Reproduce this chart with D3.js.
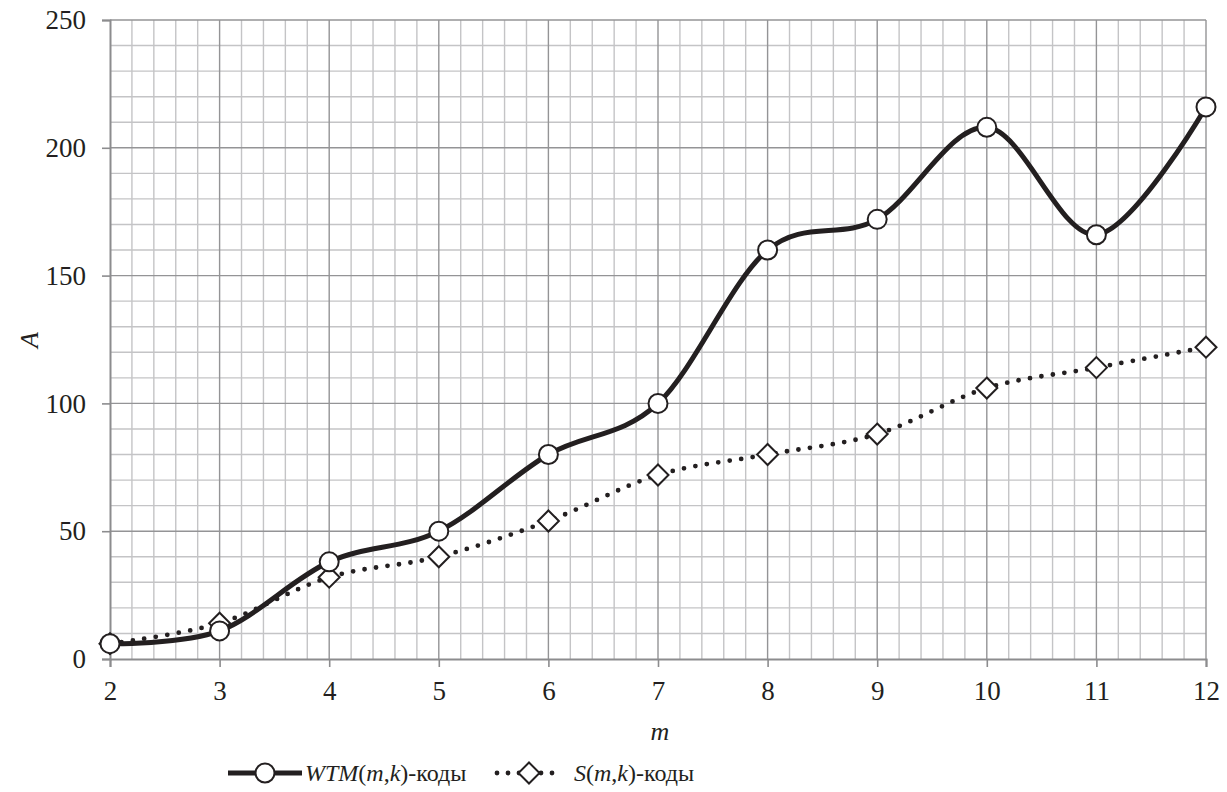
<!DOCTYPE html>
<html>
<head>
<meta charset="utf-8">
<script src="https://cdn.jsdelivr.net/npm/d3@7"></script>
</head>
<body style="margin:0">
<script>
// ---- data ----
const mValues   = [2, 3, 4, 5, 6, 7, 8, 9, 10, 11, 12];
const wtmValues = [6, 11, 38, 50, 80, 100, 160, 172, 208, 166, 216];
const sValues   = [6, 14, 32, 40, 54, 72, 80, 88, 106, 114, 122];
const yTicks    = [0, 50, 100, 150, 200, 250];

const FONT = "Liberation Serif";
const INK = "#231f20";

const width = 1227, height = 792;
const margin = { top: 20, right: 21, bottom: 133, left: 110 };
const innerW = width - margin.left - margin.right;
const innerH = height - margin.top - margin.bottom;

const svg = d3.select("body").append("svg")
  .attr("width", width)
  .attr("height", height);

const g = svg.append("g")
  .attr("transform", `translate(${margin.left},${margin.top})`);

const x = d3.scaleLinear().domain([2, 12]).range([0, innerW]);
const y = d3.scaleLinear().domain([0, 250]).range([innerH, 0]);

// minor grid
const minorX = d3.range(2, 12.001, 0.2).map(v => +v.toFixed(1));
const minorY = d3.range(0, 251, 10);

g.append("g").selectAll("line")
  .data(minorX.filter(v => !Number.isInteger(v)))
  .join("line")
  .attr("x1", d => x(d)).attr("x2", d => x(d))
  .attr("y1", 0).attr("y2", innerH)
  .attr("stroke", "#c4c4c6").attr("stroke-width", 1.4);

g.append("g").selectAll("line")
  .data(minorY.filter(v => v % 50 !== 0))
  .join("line")
  .attr("x1", 0).attr("x2", innerW)
  .attr("y1", d => y(d)).attr("y2", d => y(d))
  .attr("stroke", "#c4c4c6").attr("stroke-width", 1.4);

// major grid
g.append("g").selectAll("line")
  .data(mValues.slice(1))
  .join("line")
  .attr("x1", d => x(d)).attr("x2", d => x(d))
  .attr("y1", 0).attr("y2", innerH)
  .attr("stroke", "#949496").attr("stroke-width", 1.4);

g.append("g").selectAll("line")
  .data(yTicks.slice(1))
  .join("line")
  .attr("x1", 0).attr("x2", innerW)
  .attr("y1", d => y(d)).attr("y2", d => y(d))
  .attr("stroke", "#949496").attr("stroke-width", 1.4);

// axes
const xAxis = g.append("g")
  .attr("transform", `translate(0,${innerH})`)
  .call(d3.axisBottom(x).tickValues(mValues).tickSize(8).tickPadding(14).tickFormat(d3.format("d")));
const yAxis = g.append("g")
  .call(d3.axisLeft(y).tickValues(yTicks).tickSize(8).tickPadding(16));

[xAxis, yAxis].forEach(a => {
  a.select(".domain").attr("stroke", "#8c8c8e").attr("stroke-width", 2);
  a.selectAll(".tick line").attr("stroke", "#8c8c8e").attr("stroke-width", 1.6);
  a.selectAll(".tick text").attr("fill", INK).style("font-size", "27px", "important");
});
yAxis.selectAll(".tick text").attr("dy", "0.32em");

// axis titles
svg.append("text")
  .attr("x", margin.left + x(7) + 2)
  .attr("y", 740)
  .attr("text-anchor", "middle")
  .attr("font-style", "italic")
  .attr("fill", INK)
  .style("font-size", "26px", "important")
  .text("m");

svg.append("text")
  .attr("transform", "translate(38,340) rotate(-90)")
  .attr("text-anchor", "middle")
  .attr("font-style", "italic")
  .attr("fill", INK)
  .style("font-size", "26px", "important")
  .text("A");

// lines
const line = d3.line()
  .x(d => x(d[0]))
  .y(d => y(d[1]))
  .curve(d3.curveCatmullRom.alpha(0));

const wtm = mValues.map((m, i) => [m, wtmValues[i]]);
const sdat = mValues.map((m, i) => [m, sValues[i]]);

g.append("path")
  .datum(sdat)
  .attr("d", line)
  .attr("fill", "none")
  .attr("stroke", INK)
  .attr("stroke-width", 4.8)
  .attr("stroke-linecap", "round")
  .attr("stroke-dasharray", "0 11.6");

g.append("path")
  .datum(wtm)
  .attr("d", line)
  .attr("fill", "none")
  .attr("stroke", INK)
  .attr("stroke-width", 5);

const diamond = r => `M0,${-r}L${r},0L0,${r}L${-r},0Z`;

g.append("g").selectAll("path")
  .data(sdat)
  .join("path")
  .attr("transform", d => `translate(${x(d[0])},${y(d[1])})`)
  .attr("d", diamond(10.5))
  .attr("fill", "#fff")
  .attr("stroke", INK)
  .attr("stroke-width", 2);

g.append("g").selectAll("circle")
  .data(wtm)
  .join("circle")
  .attr("cx", d => x(d[0]))
  .attr("cy", d => y(d[1]))
  .attr("r", 9.5)
  .attr("fill", "#fff")
  .attr("stroke", INK)
  .attr("stroke-width", 2);

// legend
const ly = 773;
const leg = svg.append("g");

function legendLabel(x0, name) {
  const t = leg.append("text")
    .attr("x", x0).attr("y", ly).attr("dy", "0.33em")
    .attr("fill", INK)
    .style("font-size", "24px", "important");
  t.append("tspan").attr("font-style", "italic").text(name);
  t.append("tspan").text("(");
  t.append("tspan").attr("font-style", "italic").text("m");
  t.append("tspan").text(",");
  t.append("tspan").attr("font-style", "italic").text("k");
  t.append("tspan").text(")-коды");
}

leg.append("line")
  .attr("x1", 228).attr("x2", 302).attr("y1", ly).attr("y2", ly)
  .attr("stroke", INK).attr("stroke-width", 5);
leg.append("circle")
  .attr("cx", 265).attr("cy", ly).attr("r", 9.5)
  .attr("fill", "#fff").attr("stroke", INK).attr("stroke-width", 2);
legendLabel(305, "WTM");

leg.append("line")
  .attr("x1", 497).attr("x2", 563).attr("y1", ly).attr("y2", ly)
  .attr("stroke", INK).attr("stroke-width", 4.8)
  .attr("stroke-linecap", "round").attr("stroke-dasharray", "0 11");
leg.append("path")
  .attr("transform", `translate(529,${ly})`)
  .attr("d", diamond(10.5))
  .attr("fill", "#fff").attr("stroke", INK).attr("stroke-width", 2);
legendLabel(574, "S");

// serif face for every label
svg.selectAll("text").style("font-family", FONT, "important");
</script>
</body>
</html>
